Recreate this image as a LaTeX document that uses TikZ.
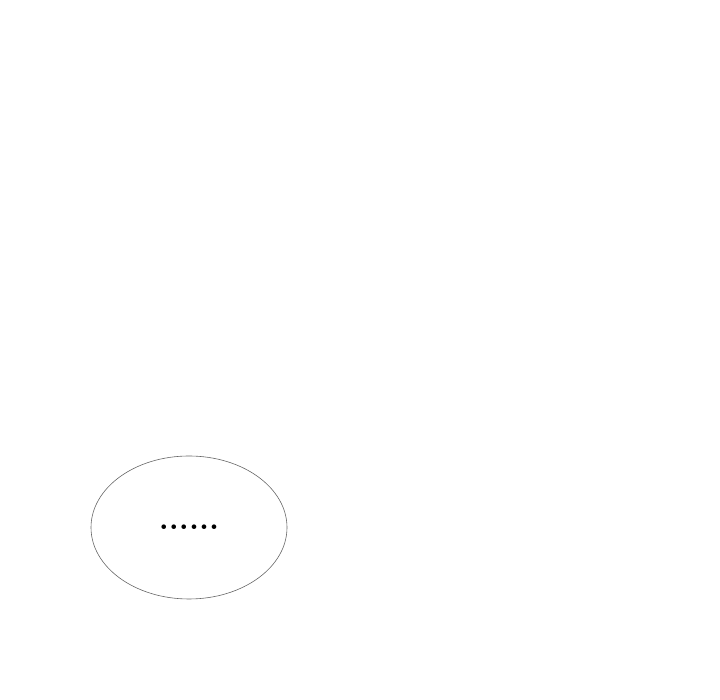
\documentclass[tikz,border=0pt]{standalone}
\usepackage{fontspec}
\usetikzlibrary{shapes.geometric, positioning}
\tikzstyle{blob} = [ellipse, draw=black!60, line width=0.6pt, minimum width=196pt, minimum height=143pt, inner sep=0pt, font=\fontsize{32}{32}\selectfont\bfseries]

\begin{document}
\begin{tikzpicture}[x=1pt, y=1pt]
        \useasboundingbox (0,0) rectangle (720,700);
        \node (set) [blob] at (189,172.5) {......};
        \end{tikzpicture}
\end{document}
